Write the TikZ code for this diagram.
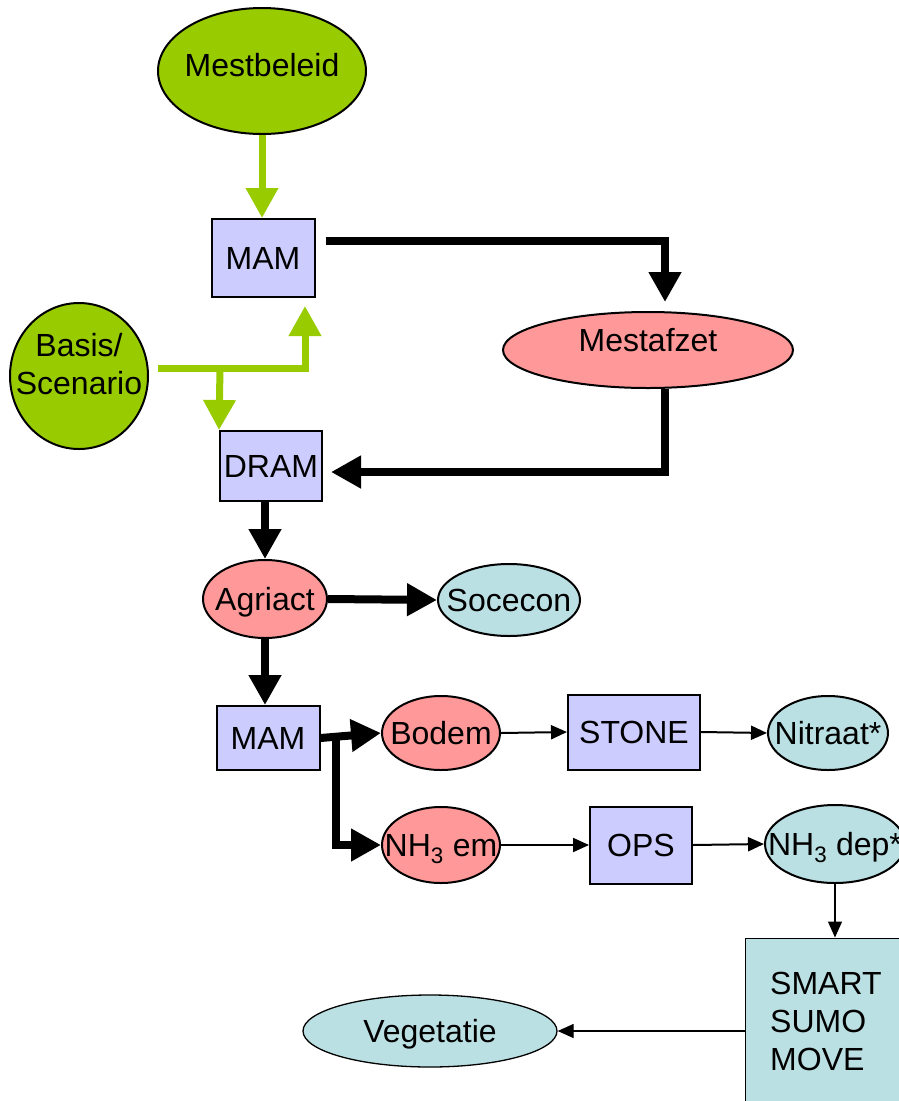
\documentclass[tikz,border=0pt]{standalone}
\usepackage{fontspec}
\setmainfont{Liberation Sans}
\usetikzlibrary{shapes.geometric,arrows.meta}
\definecolor{grn}{HTML}{99CC00}
\definecolor{lav}{HTML}{CCCCFF}
\definecolor{pnk}{HTML}{FF9999}
\definecolor{cyn}{HTML}{BBE0E3}
\newcommand{\zw}[1]{\makebox[0pt]{#1}}
\begin{document}
\begin{tikzpicture}[x=1pt,y=-1pt,
 every node/.style={font=\fontsize{32}{38}\selectfont, inner sep=0pt},
 ell/.style={ellipse, draw=black, line width=2pt, text depth=0pt},
 box/.style={rectangle, draw=black, line width=2pt, fill=lav},
 grnarrow/.style={draw=grn, line width=7pt, -{Triangle[width=31pt,length=30pt]}},
 blkarrow/.style={draw=black, line width=8pt, -{Triangle[width=31pt,length=30pt]}},
 thinarrow/.style={draw=black, line width=2pt, -{Triangle[width=14pt,length=16pt]}},
]
\useasboundingbox (0,0) rectangle (899,1101);
\clip (0,0) rectangle (899,1101);
\fill[white] (0,0) rectangle (899,1101);

% nodes
\node[ell, fill=grn, minimum width=208pt, minimum height=126pt] (mb) at (262,71) {};
\node (mbtext) at (262,65) {Mestbeleid};
\node[box, minimum width=103pt, minimum height=78pt] (mam1) at (263,258) {MAM};
\node[ell, fill=grn, minimum width=138pt, minimum height=146pt] (bs) at (79,376) {};
\node[align=center] (bstext) at (79,364) {Basis/\\Scenario};
\node[ell, fill=pnk, minimum width=290pt, minimum height=76pt] (mz) at (648,350) {};
\node (mztext) at (648,340) {Mestafzet};
\node[box, minimum width=102pt, minimum height=70pt] (dram) at (271,466) {DRAM};
\node[ell, fill=pnk, minimum width=124pt, minimum height=78pt] (agri) at (265,599) {\zw{Agriact}};
\node[ell, fill=cyn, minimum width=142pt, minimum height=72pt] (soc) at (509,600) {\zw{Socecon}};
\node[box, minimum width=103pt, minimum height=64pt] (mam2) at (268,738) {MAM};
\node[ell, fill=pnk, minimum width=118pt, minimum height=74pt] (bodem) at (441,733) {\zw{Bodem}};
\node[ell, fill=pnk, minimum width=118pt, minimum height=76pt] (nh3em) at (441,845) {\zw{NH\textsubscript{3} em}};
\node[box, minimum width=132pt, minimum height=75pt] (stone) at (634,732) {STONE};
\node[box, minimum width=102pt, minimum height=77pt] (ops) at (641,845) {OPS};
\node[ell, fill=cyn, minimum width=120pt, minimum height=74pt] (nit) at (828,733) {\zw{Nitraat*}};
\node[ell, fill=cyn, minimum width=140pt, minimum height=78pt] (nh3dep) at (835,844) {\zw{NH\textsubscript{3} dep*}};
\node[rectangle, draw=black, line width=1pt, fill=cyn, minimum width=174pt, minimum height=186pt] (smart) at (832,1031) {};
\node[align=left, anchor=west] (smarttext) at (770,1021) {SMART\\SUMO\\MOVE};
\node[ell, fill=cyn, line width=1.3pt, minimum width=254pt, minimum height=72pt] (veg) at (430,1031) {\zw{Vegetatie}};

% green connectors
\coordinate (br) at (220,368);
\draw[grnarrow] (mb.south) -- (mb.south |- mam1.north);
\draw[grnarrow] ([xshift=9pt,yshift=8pt]bs.east) -| ([xshift=42pt,yshift=-8pt]mam1.south);
\draw[grnarrow] (br) -- (dram.north west);

% black thick connectors
\draw[blkarrow] ([xshift=10pt,yshift=17pt]mam1.east) -| ([xshift=17pt,yshift=9pt]mz.north);
\draw[blkarrow] ([xshift=17pt]mz.south) |- ([xshift=8pt,yshift=-6pt]dram.east);
\draw[blkarrow] (dram.south -| agri.north) -- (agri.north);
\draw[blkarrow] (agri.east) -- (soc.west);
\draw[blkarrow] (agri.south) -- (agri.south |- mam2.north);
\draw[blkarrow] (mam2.east) -- (bodem.west);
\draw[blkarrow] ([xshift=15pt]mam2.east) |- (nh3em.west);

% thin connectors
\draw[thinarrow] (bodem.east) -- (stone.west);
\draw[thinarrow] (stone.east) -- (nit.west);
\draw[thinarrow] (nh3em.east) -- (ops.west);
\draw[thinarrow] (ops.east) -- (nh3dep.west);
\draw[thinarrow, line width=1.3pt] (nh3dep.south) -- (nh3dep.south |- smart.north);
\draw[thinarrow, line width=1.3pt] (smart.west) -- (veg.east);
\end{tikzpicture}
\end{document}
